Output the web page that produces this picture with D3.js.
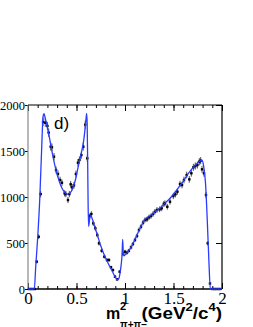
<!DOCTYPE html>
<html>
<head>
<meta charset="utf-8">
<script src="https://cdn.jsdelivr.net/npm/d3@7"></script>
<style>
  body { margin: 0; background: #fff; }
  .tick text { font-family: "Liberation Serif", "DejaVu Serif", serif; fill: #000; }
</style>
</head>
<body>
<svg id="chart" width="253" height="327"></svg>
<script>
// data points (bin centre in GeV^2/c^4, events per bin, error)
var massBins = [0.01, 0.03, 0.05, 0.07, 0.09, 0.11, 0.13, 0.155, 0.178, 0.2, 0.213, 0.234, 0.247, 0.268, 0.289, 0.309, 0.33, 0.35,
  0.378, 0.39, 0.412, 0.426, 0.44, 0.454, 0.474, 0.494, 0.515, 0.53, 0.55, 0.57, 0.59, 0.611, 0.633, 0.653, 0.673, 0.694,
  0.714, 0.732, 0.76, 0.787, 0.814, 0.835, 0.856, 0.876, 0.897, 0.918, 0.945, 0.98, 1.0, 1.02, 1.04, 1.062, 1.082,
  1.103, 1.124, 1.144, 1.165, 1.186, 1.206, 1.227, 1.247, 1.268, 1.289, 1.309, 1.33, 1.357, 1.378, 1.4, 1.412, 1.436,
  1.464, 1.498, 1.519, 1.54, 1.567, 1.588, 1.608, 1.636, 1.663, 1.684, 1.705, 1.725, 1.746, 1.766, 1.78, 1.794, 1.814,
  1.835, 1.853, 1.876, 1.9, 1.92, 1.94, 1.96, 1.98];
var counts = [0, 0, 0, 0, 297, 568, 1032, 1815, 1808, 1772, 1700, 1547, 1540, 1438, 1293, 1250, 1185, 1155,
  1040, 1032, 967, 1032, 1138, 1105, 1127, 1250, 1373, 1402, 1456, 1547, 1786, 1420, 790, 815, 714, 660,
  587, 497, 416, 351, 315, 315, 236, 206, 134, 105, 188, 380, 405, 394, 416, 453, 489,
  533, 576, 641, 677, 721, 750, 757, 779, 793, 815, 840, 859, 866, 877, 924, 931, 894,
  949, 1011, 1029, 1058, 1141, 1130, 1185, 1239, 1192, 1258, 1323, 1337, 1348, 1384, 1395, 1301, 1258,
  1022, 497, 60, 0, 0, 0, 0, 0];
var errs = [0, 0, 0, 0, 20, 25, 35, 45, 45, 45, 45, 42, 42, 40, 38, 38, 36, 36,
  34, 34, 33, 34, 36, 35, 36, 37, 40, 40, 40, 42, 45, 40, 30, 30, 28, 27,
  26, 24, 22, 20, 19, 19, 17, 16, 13, 12, 15, 20, 21, 21, 21, 22, 23,
  24, 25, 26, 27, 28, 28, 29, 29, 29, 30, 30, 31, 31, 31, 32, 32, 31,
  32, 34, 34, 34, 35, 35, 36, 36, 36, 37, 38, 38, 38, 39, 39, 38, 38,
  34, 24, 8, 0, 0, 0, 0, 0];

// fit curve
var fitMass = [0, 0.065, 0.08, 0.1, 0.12, 0.14, 0.155, 0.165, 0.18, 0.2, 0.22, 0.25, 0.28, 0.31, 0.34, 0.37, 0.4, 0.43,
  0.46, 0.49, 0.52, 0.55, 0.575, 0.59, 0.6, 0.605, 0.61, 0.615, 0.62, 0.625, 0.635, 0.645, 0.66, 0.69, 0.72, 0.75,
  0.78, 0.81, 0.84, 0.87, 0.9, 0.92, 0.935, 0.95, 0.96, 0.97, 0.976, 0.982, 0.99, 1.0, 1.03, 1.06, 1.09, 1.12,
  1.15, 1.18, 1.2, 1.25, 1.3, 1.35, 1.4, 1.45, 1.5, 1.55, 1.6, 1.65, 1.7, 1.75, 1.78, 1.795, 1.81, 1.83, 1.85,
  1.865, 1.88, 2];
var fitVals = [0, 0, 250, 560, 950, 1500, 1870, 1905, 1845, 1760, 1650, 1480, 1330, 1210, 1120, 1060, 1030, 1040,
  1090, 1190, 1340, 1480, 1620, 1760, 1870, 1910, 1800, 1400, 900, 680, 760, 800, 770, 670, 570, 470,
  385, 315, 250, 190, 130, 100, 110, 180, 260, 380, 540, 400, 360, 370, 400, 450, 510, 580,
  650, 710, 750, 790, 830, 870, 920, 970, 1030, 1100, 1170, 1250, 1320, 1370, 1395, 1400, 1340, 1150, 700,
  300, 0, 0];

var xTicks = [0, 0.5, 1, 1.5, 2];
var xTickLabels = ['0', '0.5', '1', '1.5', '2'];
var yTicks = [0, 500, 1000, 1500, 2000];
var yTickLabels = ['0', '500', '1000', '1500', '2000'];

drawChart();

function drawChart() {
  var svg = d3.select('#chart');
  var pl = 28, pr = 222, pt = 105, pb = 289;

  var x = d3.scaleLinear().domain([0, 2]).range([pl, pr]);
  var y = d3.scaleLinear().domain([0, 2000]).range([pb, pt]);

  var minorX = d3.range(0, 2.0001, 0.1);

  // bottom axis, ticks pointing inward
  svg.append('g')
    .attr('transform', 'translate(0,' + pb + ')')
    .call(d3.axisBottom(x).tickValues(minorX).tickSize(-3).tickFormat(''))
    .call(function(g) { g.select('.domain').remove(); });
  svg.append('g')
    .attr('transform', 'translate(0,' + pb + ')')
    .call(d3.axisBottom(x).tickValues(xTicks).tickSize(-6).tickPadding(3)
      .tickFormat(function(d, i) { return xTickLabels[i]; }))
    .call(function(g) {
      g.select('.domain').remove();
      g.selectAll('text').style('font-size', '17px').attr('dy', '0.71em');
    });

  // top axis
  svg.append('g')
    .attr('transform', 'translate(0,' + pt + ')')
    .call(d3.axisTop(x).tickValues(minorX).tickSize(-3).tickFormat(''))
    .call(function(g) { g.select('.domain').remove(); });
  svg.append('g')
    .attr('transform', 'translate(0,' + pt + ')')
    .call(d3.axisTop(x).tickValues(xTicks).tickSize(-6).tickFormat(''))
    .call(function(g) { g.select('.domain').remove(); });

  // left axis
  svg.append('g')
    .attr('transform', 'translate(' + pl + ',0)')
    .call(d3.axisLeft(y).tickValues(yTicks).tickSize(3).tickPadding(0)
      .tickFormat(function(d, i) { return yTickLabels[i]; }))
    .call(function(g) {
      g.select('.domain').remove();
      g.selectAll('text').style('font-size', '12.5px');
    });

  // right axis, ticks inward
  svg.append('g')
    .attr('transform', 'translate(' + pr + ',0)')
    .call(d3.axisRight(y).tickValues(yTicks).tickSize(-6).tickFormat(''))
    .call(function(g) { g.select('.domain').remove(); });

  // frame
  svg.append('line').attr('x1', pl).attr('x2', pr).attr('y1', pt).attr('y2', pt)
    .attr('stroke', '#000').attr('stroke-width', 1.2);
  svg.append('line').attr('x1', pr).attr('x2', pr).attr('y1', pt).attr('y2', pb)
    .attr('stroke', '#000').attr('stroke-width', 1.2);
  svg.append('line').attr('x1', pl).attr('x2', pr).attr('y1', pb).attr('y2', pb)
    .attr('stroke', '#000').attr('stroke-width', 1.4);
  svg.append('line').attr('x1', pl).attr('x2', pl).attr('y1', pt).attr('y2', pb)
    .attr('stroke', '#888').attr('stroke-width', 1.2);

  // data points with error bars
  var pts = massBins.map(function(m, i) { return { m: m, v: counts[i], e: errs[i] }; });
  var pg = svg.append('g');
  pg.selectAll('line.err')
    .data(pts.filter(function(d) { return d.e > 0; }))
    .enter().append('line')
    .attr('class', 'err')
    .attr('x1', function(d) { return x(d.m); })
    .attr('x2', function(d) { return x(d.m); })
    .attr('y1', function(d) { return y(d.v - d.e); })
    .attr('y2', function(d) { return y(d.v + d.e); })
    .attr('stroke', '#222').attr('stroke-width', 0.8);
  pg.selectAll('line.bin')
    .data(pts)
    .enter().append('line')
    .attr('class', 'bin')
    .attr('x1', function(d) { return x(d.m - 0.01); })
    .attr('x2', function(d) { return x(d.m + 0.01); })
    .attr('y1', function(d) { return y(d.v); })
    .attr('y2', function(d) { return y(d.v); })
    .attr('stroke', '#222').attr('stroke-width', 0.8);
  pg.selectAll('rect')
    .data(pts)
    .enter().append('rect')
    .attr('x', function(d) { return x(d.m) - 1.2; })
    .attr('y', function(d) { return y(d.v) - 1.2; })
    .attr('width', 2.4).attr('height', 2.4)
    .attr('fill', '#000');

  // fit curve
  var line = d3.line()
    .x(function(d) { return x(d[0]); })
    .y(function(d) { return y(d[1]); })
    .curve(d3.curveMonotoneX);
  svg.append('path')
    .datum(fitMass.map(function(m, i) { return [m, fitVals[i]]; }))
    .attr('d', line)
    .attr('fill', 'none')
    .attr('stroke', '#2a3cff')
    .attr('stroke-width', 1.3);

  // panel label
  svg.append('text')
    .attr('x', 54).attr('y', 129)
    .style('font-family', '"Liberation Sans", Arial, sans-serif')
    .style('font-size', '17px')
    .text('d)');

  // x axis title
  var tf = '"Liberation Sans", Arial, sans-serif';
  svg.append('text')
    .attr('x', 106).attr('y', 319)
    .style('font-family', tf).style('font-weight', 'bold').style('font-size', '16px')
    .text('m');
  svg.append('text')
    .attr('x', 120).attr('y', 310)
    .style('font-family', tf).style('font-weight', 'bold').style('font-size', '11px')
    .text('2');
  svg.append('text')
    .attr('x', 120).attr('y', 328)
    .style('font-family', tf).style('font-weight', 'bold').style('font-size', '10px')
    .text('\u03c0+\u03c0\u2212');
  var rest = svg.append('text')
    .attr('transform', 'translate(222,319) scale(1.18,1)')
    .attr('text-anchor', 'end')
    .style('font-family', tf).style('font-weight', 'bold').style('font-size', '16px');
  rest.append('tspan').text('(GeV');
  rest.append('tspan').attr('dy', -8).style('font-size', '11px').text('2');
  rest.append('tspan').attr('dy', 8).text('/c');
  rest.append('tspan').attr('dy', -8).style('font-size', '11px').text('4');
  rest.append('tspan').attr('dy', 8).text(')');
}
</script>
</body>
</html>
